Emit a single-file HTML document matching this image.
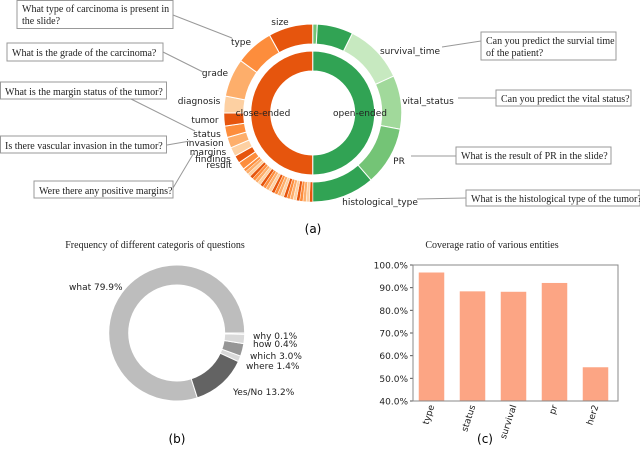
<!DOCTYPE html>
<html><head><meta charset="utf-8"><style>
body{margin:0;background:#fff}
svg{display:block;font-family:"DejaVu Sans","Liberation Sans",sans-serif}
.box{fill:#fff;stroke:#999;stroke-width:1}
.q{font-family:"Liberation Serif",serif;font-size:10px;fill:#222}
.lbl{font-size:9px;fill:#222}
.ln{stroke:#999;stroke-width:1;fill:none}
</style></head><body>
<svg id="fig" width="640" height="453" viewBox="0 0 640 453">
<g id="sun"></g>
<g>
<rect class="box" x="17" y="0.5" width="156" height="28"/>
<text class="q" x="22" y="12">What type of carcinoma is present in</text><text class="q" x="22" y="24">the slide?</text>
<path class="ln" d="M173,15 L232,38"/>
<rect class="box" x="7" y="43" width="156" height="18"/>
<text class="q" x="12" y="56">What is the grade of the carcinoma?</text>
<path class="ln" d="M163,52 L203,72"/>
<rect class="box" x="0.5" y="82" width="166" height="17"/>
<text class="q" x="5" y="95">What is the margin status of the tumor?</text>
<path class="ln" d="M131,99 L195,131"/>
<rect class="box" x="0.5" y="136" width="166" height="17"/>
<text class="q" x="5" y="149">Is there vascular invasion in the tumor?</text>
<path class="ln" d="M167,145 L190,141"/>
<rect class="box" x="34" y="181" width="139" height="17"/>
<text class="q" x="39" y="194">Were there any positive margins?</text>
<path class="ln" d="M173,188 L195,151"/>
<rect class="box" x="481" y="32" width="135" height="28"/>
<text class="q" x="486" y="44">Can you predict the survial time</text><text class="q" x="486" y="56">of the patient?</text>
<path class="ln" d="M442,47 L481,41"/>
<rect class="box" x="496" y="90" width="135" height="16"/>
<text class="q" x="501" y="102">Can you predict the vital status?</text>
<path class="ln" d="M458,98 L496,98"/>
<rect class="box" x="456" y="147" width="155" height="17"/>
<text class="q" x="461" y="159">What is the result of PR in the slide?</text>
<path class="ln" d="M411,156 L456,156"/>
<rect class="box" x="466" y="190" width="174" height="16"/>
<text class="q" x="471" y="202">What is the histological type of the tumor?</text>
<path class="ln" d="M417,199 L466,198"/>
</g>
<text x="313" y="233" text-anchor="middle" font-size="12">(a)</text>
<g id="donut"></g>
<text x="155" y="248" text-anchor="middle" class="q">Frequency of different categoris of questions</text>
<text x="177" y="443" text-anchor="middle" font-size="12">(b)</text>
<g id="bars"></g>
<text x="492" y="248" text-anchor="middle" class="q">Coverage ratio of various entities</text>
<text x="485" y="443" text-anchor="middle" font-size="12">(c)</text>
</svg>
<script>
// Sunburst data (degrees, clockwise from top)
const innerNames = ["open-ended","close-ended"];
const innerShares = [180,180];
const openNames = ["tiny","other_open","survival_time","vital_status","PR","histological_type"];
const openSizes = [3,23.5,39,35,38.5,41];
const closeNames = ["small","result","findings","margins","invasion","status","tumor","diagnosis","grade","type","size"];
const closeSizes = [51,5,5,6,7,7.5,8.5,11,25,25,29];
const smallCount = 24;
const percentTicks = ["40.0%","50.0%","60.0%","70.0%","80.0%","90.0%","100.0%"];
const tickVals = [40,50,60,70,80,90,100];
const entities = ["type","status","survival","pr","her2"];
const coverage = [96.8,88.5,88.3,92.2,55.0];
const qCats = ["what","Yes/No","where","which","how","why"];
const qVals = [79.9,13.2,1.4,3.0,2.2,0.3];
const qLabels = ["what 79.9%","Yes/No 13.2%","where 1.4%","which 3.0%","how 0.4%","why 0.1%"];
const qColors = ["#bdbdbd","#636363","#d9d9d9","#969696","#d9d9d9","#bdbdbd"];

const NS="http://www.w3.org/2000/svg";
function mk(tag,attrs,parent){const e=document.createElementNS(NS,tag);for(const k in attrs)e.setAttribute(k,attrs[k]);parent.appendChild(e);return e;}
function arc(cx,cy,r0,r1,a0,a1){
  const p=(r,a)=>[cx+r*Math.sin(a*Math.PI/180),cy-r*Math.cos(a*Math.PI/180)];
  const lg=(a1-a0)>180?1:0;
  const [x0,y0]=p(r1,a0),[x1,y1]=p(r1,a1),[x2,y2]=p(r0,a1),[x3,y3]=p(r0,a0);
  return `M${x0},${y0} A${r1},${r1} 0 ${lg} 1 ${x1},${y1} L${x2},${y2} A${r0},${r0} 0 ${lg} 0 ${x3},${y3}Z`;
}
const sun=document.getElementById('sun');
const cx=312.7,cy=113;
const oranges=["#e6550d","#fd8d3c","#fdae6b","#fdd0a2"];
let a=0;
innerShares.forEach((s,i)=>{
  const el=mk('path',{d:arc(cx,cy,42,62,a,a+s),fill:i==0?"#31a354":"#e6550d",stroke:"#fff","stroke-width":1},sun);
  
  
  a+=s;
});
a=0;
const openCols=["#74c476","#31a354","#c7e9c0","#a1d99b","#74c476","#31a354"];
openSizes.forEach((s,i)=>{
  const el=mk('path',{d:arc(cx,cy,69,89,a,a+s),fill:openCols[i],stroke:"#fff","stroke-width":1},sun);
  
  
  a+=s;
});
closeSizes.forEach((s,i)=>{
  if(closeNames[i]==="small"){
    const step=s/smallCount;
    for(let k=0;k<smallCount;k++){
      const el=mk('path',{d:arc(cx,cy,69,89,a+k*step,a+(k+1)*step),fill:oranges[(k*3)%4],stroke:"#fff","stroke-width":0.5},sun);
      
      
    }
  } else {
    const el=mk('path',{d:arc(cx,cy,69,89,a,a+s),fill:oranges[(10-i)%4],stroke:"#fff","stroke-width":1},sun);
    
    
  }
  a+=s;
});
const sunLabels=[["close-ended",263,116,"middle"],["open-ended",360,116,"middle"],["size",280,25,"middle"],["type",241,45,"middle"],["grade",215,76,"middle"],["diagnosis",199,104,"middle"],["tumor",205,123,"middle"],["status",207,137,"middle"],["invasion",205,146,"middle"],["margins",208,155,"middle"],["findings",213,162,"middle"],["result",219,168,"middle"],["survival_time",410,54,"middle"],["vital_status",428,104,"middle"],["PR",399,164,"middle"],["histological_type",380,205,"middle"]];
sunLabels.forEach(l=>{const t=mk('text',{x:l[1],y:l[2],"text-anchor":l[3],class:"lbl"},sun);t.textContent=l[0];

});

const dn=document.getElementById('donut');
const dcx=176.7,dcy=333,dr1=68,dr0=48;
const tot=qVals.reduce((p,c)=>p+c,0);
let start=0;
qVals.forEach((v,i)=>{
  const sweep=v/tot*360;
  const b0=90-(start+sweep), b1=90-start;
  const el=mk('path',{d:arc(dcx,dcy,dr0,dr1,b0,b1),fill:qColors[i],stroke:"#fff","stroke-width":1},dn);
  
  
  start+=sweep;
});
const qPos=[[69,290,"start"],[233,395,"start"],[246,369,"start"],[250,359,"start"],[253,347,"start"],[253,339,"start"]];
qLabels.forEach((s,i)=>{const t=mk('text',{x:qPos[i][0],y:qPos[i][1],"text-anchor":qPos[i][2],class:"lbl",fill:"#222"},dn);t.textContent=s;

});

const bg=document.getElementById('bars');
const L=413,R=618,T=265,B=401,vmin=40,vmax=100;
const y=v=>B-(v-vmin)/(vmax-vmin)*(B-T);
const band=(R-L)/entities.length;
const x=i=>L+band*(i+0.5)-2;
coverage.forEach((v,i)=>{
  const el=mk('rect',{x:x(i)-13,y:y(v),width:26,height:B-y(v),fill:"#fca584",stroke:"#fff","stroke-width":0.5},bg);
  
  
  const t=mk('text',{x:0,y:0,"font-size":9,fill:"#222","text-anchor":"end",transform:`translate(${x(i)+3},${B+5}) rotate(-72)`},bg);
  t.textContent=entities[i];
  
  
});
tickVals.forEach((v,i)=>{
  mk('line',{x1:L-3,x2:L,y1:y(v),y2:y(v),stroke:"#555"},bg);
  const t=mk('text',{x:L-5,y:y(v)+3.5,"font-size":9,fill:"#222","text-anchor":"end"},bg);
  t.textContent=percentTicks[i];
  
  
});
const fr=mk('rect',{x:L,y:T,width:R-L,height:B-T,fill:"none",stroke:"#888","stroke-width":1},bg);


</script>
</body></html>
